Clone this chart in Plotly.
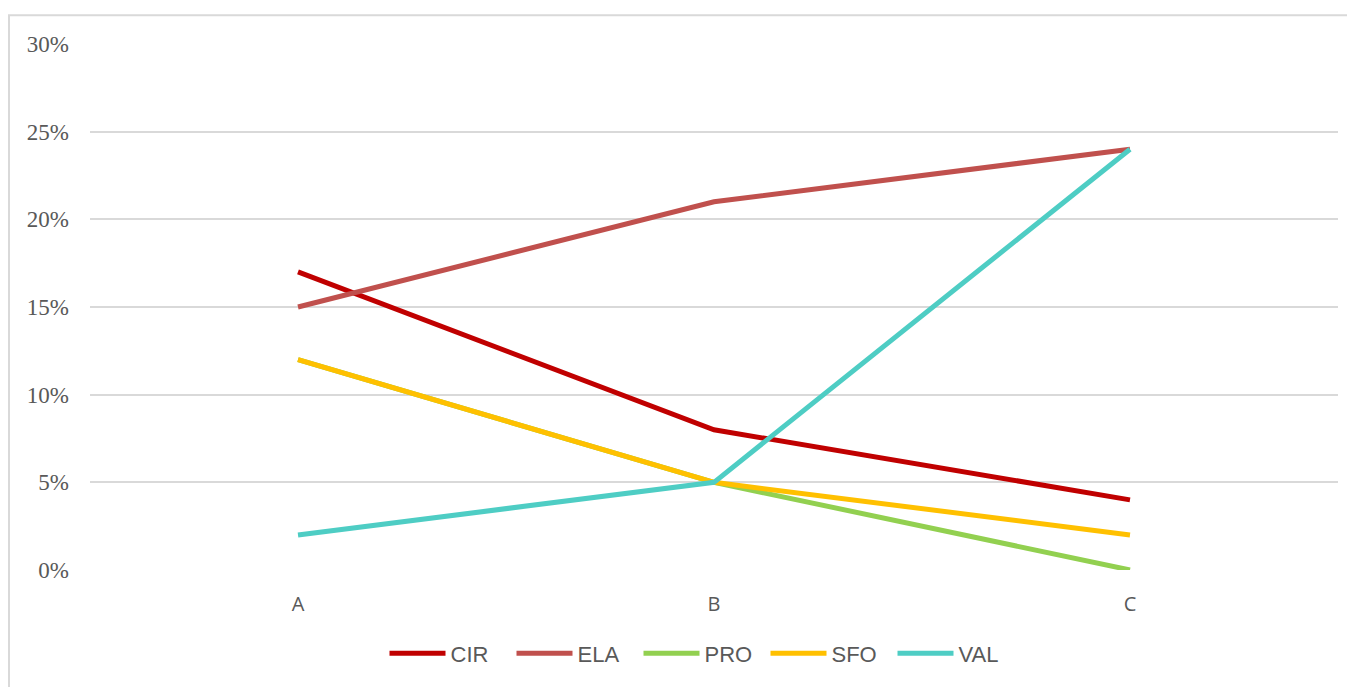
import plotly.graph_objects as go

categories = ["A", "B", "C"]
series_names = ["CIR", "ELA", "PRO", "SFO", "VAL"]
cir = [0.17, 0.08, 0.04]
ela = [0.15, 0.21, 0.24]
pro = [0.12, 0.05, 0.00]
sfo = [0.12, 0.05, 0.02]
val = [0.02, 0.05, 0.24]
colors = ["#C00000", "#C0504D", "#92D050", "#FFC000", "#4ECDC4"]
y_ticks = [0, 0.05, 0.10, 0.15, 0.20, 0.25, 0.30]

fig = go.Figure()
for name, vals, col in zip(series_names, [cir, ela, pro, sfo, val], colors):
    fig.add_trace(go.Scatter(x=categories, y=vals, name=name, mode="lines",
                             line=dict(color=col, width=5)))

# page body has an 8px offset; figure coordinates = screen - 8
W, H = 1347, 679
L, R, T, B = 82, 17, 36, 114
pw, ph = W - L - R, H - T - B

fig.update_layout(
    width=W, height=H,
    margin=dict(l=L, r=R, t=T, b=B),
    paper_bgcolor="white", plot_bgcolor="white",
    showlegend=True,
    legend=dict(orientation="h", x=(694 - L) / pw, xanchor="center",
                y=(565 - 649) / ph, yanchor="middle",
                font=dict(family="Liberation Sans", size=22, color="#595959"),
                itemwidth=56, entrywidth=56, tracegroupgap=0),
    shapes=[dict(type="rect", xref="paper", yref="paper",
                 x0=(1 - L) / pw, x1=1 + (R + 10) / pw,
                 y0=-(B + 10) / ph, y1=1 + (T - 7) / ph,
                 line=dict(color="#D9D9D9", width=2), fillcolor="rgba(0,0,0,0)", layer="below")],
)
fig.update_xaxes(type="category", range=[-0.5, 2.5], showgrid=False, zeroline=False,
                 showline=False, ticks="", ticklabelstandoff=20,
                 tickfont=dict(family="Open Sans", size=20, color="#595959"))
fig.update_yaxes(range=[0, 0.30], tickvals=y_ticks, tickformat=".0%", showgrid=True,
                 gridcolor="#D9D9D9", gridwidth=1.5, zeroline=False, showline=False,
                 ticks="", ticklabelstandoff=20,
                 tickfont=dict(family="Liberation Serif", size=23, color="#595959"))
fig.write_html("out.html")
